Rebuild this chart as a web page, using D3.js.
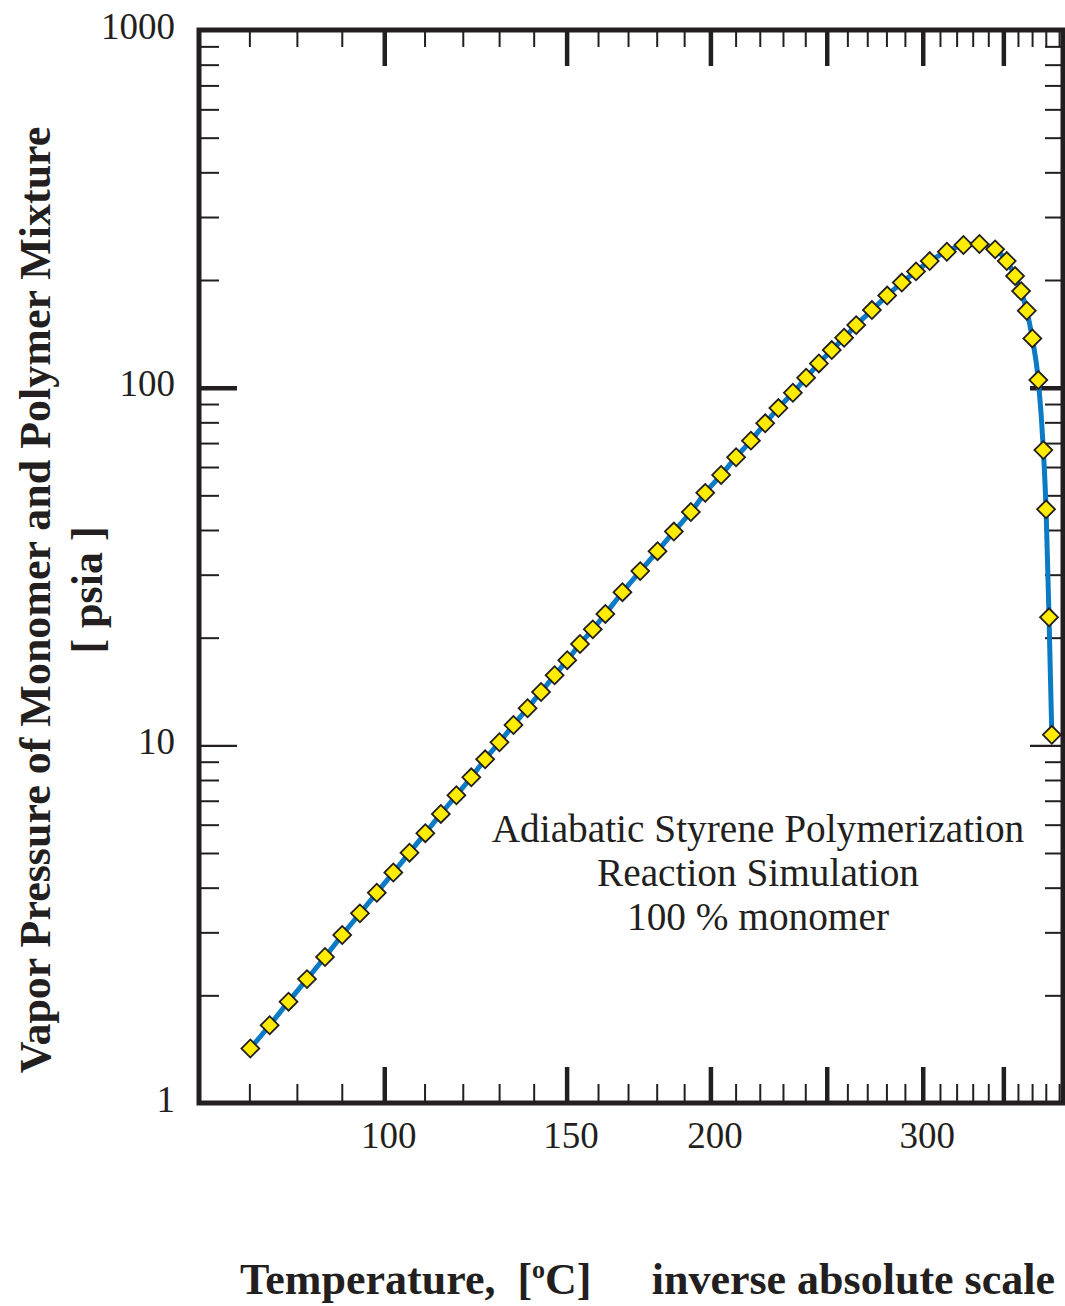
<!DOCTYPE html>
<html>
<head>
<meta charset="utf-8">
<script src="https://cdn.jsdelivr.net/npm/d3@7"></script>
<style>
  body { margin: 0; background: #fff; }
  svg { display: block; font-family: 'Liberation Serif', 'Times New Roman', serif; }
</style>
</head>
<body>
<svg id="chart" width="1065" height="1306"></svg>
<script>
// Simulation points: temperature [C] and vapor pressure [psia]
const temps = [
  70.2, 74.2, 78.2, 82.2, 86.2, 90.1, 94.2, 98.2, 102.2, 106.2,
  110.2, 114.2, 118.3, 122.3, 126.1, 130.1, 134.1, 138.2, 142.2, 146.3,
  150.2, 154.2, 158.3, 162.4, 168.1, 174.2, 180.3, 186.2, 192.5, 198.0,
  204.2, 210.2, 216.3, 222.3, 228.0, 234.4, 240.4, 246.3, 252.4, 258.4,
  264.4, 272.4, 280.4, 288.3, 296.2, 304.0, 314.1, 324.2, 334.3, 344.5,
  352.3, 358.0, 362.2, 366.2, 370.2, 374.5, 378.2, 380.2, 382.4, 384.5
]
const pressures = [
  1.42, 1.65, 1.92, 2.22, 2.56, 2.95, 3.39, 3.87, 4.41, 5.01,
  5.68, 6.43, 7.25, 8.14, 9.14, 10.2, 11.4, 12.7, 14.1, 15.7,
  17.3, 19.2, 21.1, 23.3, 26.8, 30.7, 34.9, 39.6, 44.9, 50.8,
  57.0, 63.9, 71.1, 79.5, 87.7, 96.8, 106.6, 116.9, 127.4, 137.9,
  149.6, 164.8, 180.9, 196.7, 211.4, 225.9, 239.9, 250.5, 252.1, 243.6,
  225.9, 205.1, 186.2, 164.1, 137.3, 105.0, 66.9, 45.7, 22.8, 10.7
]

// Axis ticks
const xMajor = [100, 150, 200, 250, 300, 350]
const xMinor = [70, 80, 90, 110, 120, 130, 140, 160, 170, 180, 190, 210, 220, 230, 240,
  260, 270, 280, 290, 310, 320, 330, 340, 360, 370, 380, 390]
const xLabels = [100, 150, 200, 300]
const yMajor = [1, 10, 100, 1000]
const yMinor = [2, 3, 4, 5, 6, 7, 8, 9, 20, 30, 40, 50, 60, 70, 80, 90,
  200, 300, 400, 500, 600, 700, 800, 900]

const data = temps.map((t, i) => ({ t: t, p: pressures[i] }))

const ink = '#231f20'
const plotLeft = 199, plotRight = 1063, plotTop = 30, plotBottom = 1103

// Inverse absolute temperature scale: position is linear in -1/(T + 273.15)
const inv = t => -1 / (t + 273.15)
const xs = d3.scaleLinear().domain([inv(60), inv(393)]).range([plotLeft, plotRight])
const x = t => xs(inv(t))
const y = d3.scaleLog().domain([1, 1000]).range([plotBottom, plotTop])

const svg = d3.select('#chart')

// Draw inward ticks for one side, major and minor sets
const drawTicks = (axisFn, scale, values, len, width, transform, fmt) => {
  const g = svg.append('g')
    .attr('transform', transform)
    .call(axisFn(scale)
      .tickValues(values)
      .tickSize(-len)
      .tickFormat(fmt || ''))
  g.select('.domain').remove()
  g.selectAll('.tick line').attr('stroke', ink).attr('stroke-width', width)
  return g
}

const xMajorU = xMajor.map(inv)
const xMinorU = xMinor.map(inv)
const toC = u => Math.round(-1 / u - 273.15)
// only the 100 psia line is drawn heavy on the pressure axes
const yWidth = d => d === 100 ? 4.5 : 2.2

// bottom
const gb = drawTicks(d3.axisBottom, xs, xMajorU, 36, 4.5, `translate(0,${plotBottom})`,
  u => xLabels.includes(toC(u)) ? toC(u) : '')
drawTicks(d3.axisBottom, xs, xMinorU, 19, 2, `translate(0,${plotBottom})`)
gb.selectAll('.tick text')
  .attr('y', 19)
  .attr('dx', 4)
  .attr('fill', ink)
  .style('font-size', '37px')
  .style('font-family', "'Liberation Serif', serif")

// top
drawTicks(d3.axisTop, xs, xMajorU, 36, 4.5, `translate(0,${plotTop})`)
drawTicks(d3.axisTop, xs, xMinorU, 17, 2, `translate(0,${plotTop})`)

// left
const gl = drawTicks(d3.axisLeft, y, yMajor, 38, 4.5, `translate(${plotLeft},0)`, d => d)
gl.selectAll('.tick line').attr('stroke-width', yWidth)
drawTicks(d3.axisLeft, y, yMinor, 20, 2, `translate(${plotLeft},0)`)
gl.selectAll('.tick text')
  .attr('x', -24)
  .attr('dy', 8)
  .attr('fill', ink)
  .style('font-size', '37px')
  .style('font-family', "'Liberation Serif', serif")

// right
const gr = drawTicks(d3.axisRight, y, yMajor, 33, 4.5, `translate(${plotRight},0)`)
gr.selectAll('.tick line').attr('stroke-width', yWidth)
drawTicks(d3.axisRight, y, yMinor, 18, 2, `translate(${plotRight},0)`)

// frame
svg.append('rect')
  .attr('x', plotLeft).attr('y', plotTop)
  .attr('width', plotRight - plotLeft).attr('height', plotBottom - plotTop)
  .attr('fill', 'none')
  .attr('stroke', ink)
  .attr('stroke-width', 5)

// curve and markers
const line = d3.line()
  .x(d => x(d.t))
  .y(d => y(d.p))
  .curve(d3.curveMonotoneX)

svg.append('path')
  .datum(data)
  .attr('d', line)
  .attr('fill', 'none')
  .attr('stroke', '#0a7bc4')
  .attr('stroke-width', 5)

svg.append('g')
  .selectAll('path')
  .data(data)
  .join('path')
  .attr('d', d3.symbol(d3.symbolSquare, 160))
  .attr('transform', d => `translate(${x(d.t)},${y(d.p)}) rotate(45)`)
  .attr('fill', '#ffec00')
  .attr('stroke', ink)
  .attr('stroke-width', 1.8)

// annotation
const note = ['Adiabatic Styrene Polymerization', 'Reaction Simulation', '100 % monomer']
svg.append('g')
  .selectAll('text')
  .data(note)
  .join('text')
  .attr('x', 758)
  .attr('y', (d, i) => 842 + i * 44)
  .attr('text-anchor', 'middle')
  .attr('fill', ink)
  .style('font-size', '39.3px')
  .text(d => d)

// axis titles
const yTitle = svg.append('g')
  .attr('transform', 'translate(50,600) rotate(-90)')
  .attr('font-weight', 'bold')
  .attr('fill', ink)
  .style('font-size', '44px')
yTitle.append('text')
  .attr('text-anchor', 'middle')
  .text('Vapor Pressure of Monomer and Polymer Mixture')
yTitle.append('text')
  .attr('y', 52)
  .attr('x', 10)
  .attr('text-anchor', 'middle')
  .style('white-space', 'pre')
  .text('[ psia ]')

const xTitle = svg.append('text')
  .attr('x', 240)
  .attr('y', 1294)
  .attr('font-weight', 'bold')
  .attr('fill', ink)
  .style('font-size', '44px')
  .style('white-space', 'pre')
xTitle.append('tspan').text('Temperature,  [')
xTitle.append('tspan').attr('dy', -16).style('font-size', '26px').text('o')
xTitle.append('tspan').attr('dy', 16).text('C]')

svg.append('text')
  .attr('x', 1055)
  .attr('y', 1294)
  .attr('text-anchor', 'end')
  .attr('font-weight', 'bold')
  .attr('fill', ink)
  .style('font-size', '44px')
  .text('inverse absolute scale')
</script>
</body>
</html>
